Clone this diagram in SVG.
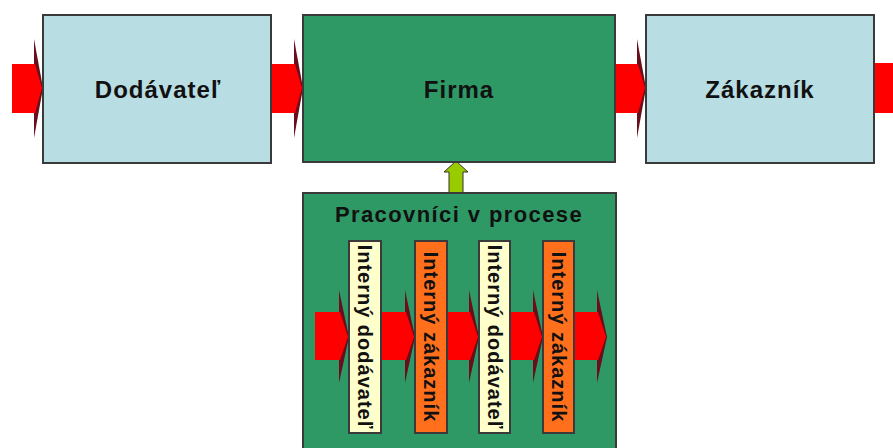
<svg xmlns="http://www.w3.org/2000/svg" width="893" height="448" viewBox="0 0 893 448">
<style>
.box{stroke:#3a3a3a;stroke-width:2}
.blue{fill:#b8dde3}
.green{fill:#2f9966}
.yel{fill:#ffffcc}
.org{fill:#ff6f1c}
.lbl{font-family:"Liberation Sans",Arial,sans-serif;font-weight:bold;fill:#111;text-anchor:middle}
.big{font-size:24px;letter-spacing:1px}
.vt{font-size:20px;letter-spacing:1px;dominant-baseline:central}
.head{fill:#6a0d1c}
.body{fill:#ff0000}
.up{fill:#99cc00;stroke:#333;stroke-width:1}
</style>
<rect width="893" height="448" fill="#ffffff"/>
<g id="connectors">
  <!-- top arrows -->
  <g id="a1"><polygon class="head" points="34,39 43,88 34,138"/><polygon class="body" points="12,64 35,64 42,88 35,113 12,113"/></g>
  <g id="a2"><polygon class="head" points="294,39 303,88 294,138"/><polygon class="body" points="271,64 295,64 302,88 295,113 271,113"/></g>
  <g id="a3"><polygon class="head" points="637,39 646,88 637,138"/><polygon class="body" points="615,64 638,64 645,88 638,113 615,113"/></g>
  <g id="a4"><polygon class="body" points="874,63 893,63 893,113 874,113"/></g>
  <!-- up arrow -->
  <polygon id="up" class="up" points="449,193 449,172 444,172 456,161 468,172 463,172 463,193"/>
</g>
<g id="dodavatel"><rect class="box blue" x="43" y="15" width="228" height="148"/><text class="lbl big" x="158" y="98">Dodávateľ</text></g>
<g id="firma"><rect class="box green" x="303" y="15" width="312" height="147"/><text class="lbl big" x="459" y="98">Firma</text></g>
<g id="zakaznik"><rect class="box blue" x="646" y="15" width="228" height="148"/><text class="lbl big" x="760" y="98">Zákazník</text></g>
<g id="pracovnici">
  <rect class="box green" x="303" y="193" width="313" height="262"/>
  <text class="lbl" x="459" y="222" style="font-size:22px;letter-spacing:1.4px">Pracovníci v procese</text>
  <g id="inner-arrows">
    <polygon class="head" points="339,290 349,337 339,383"/><polygon class="body" points="315,312 340,312 348,337 340,360 315,360"/>
    <polygon class="head" points="405,290 415,337 405,383"/><polygon class="body" points="381,312 406,312 414,337 406,360 381,360"/>
    <polygon class="head" points="469,290 479,337 469,383"/><polygon class="body" points="447,312 470,312 478,337 470,360 447,360"/>
    <polygon class="head" points="533,290 543,337 533,383"/><polygon class="body" points="510,312 534,312 542,337 534,360 510,360"/>
    <polygon class="head" points="597,290 607,337 597,383"/><polygon class="body" points="574,312 598,312 606,337 598,360 574,360"/>
  </g>
  <g id="bar1"><rect class="box yel" x="349" y="241" width="32" height="192"/><text class="lbl vt" transform="translate(365,337) rotate(90)">Interný dodávateľ</text></g>
  <g id="bar2"><rect class="box org" x="415" y="241" width="32" height="192"/><text class="lbl vt" transform="translate(431,337) rotate(90)">Interný zákazník</text></g>
  <g id="bar3"><rect class="box yel" x="479" y="241" width="31" height="192"/><text class="lbl vt" transform="translate(494.5,337) rotate(90)">Interný dodávateľ</text></g>
  <g id="bar4"><rect class="box org" x="543" y="241" width="31" height="192"/><text class="lbl vt" transform="translate(558.5,337) rotate(90)">Interný zákazník</text></g>
</g>
</svg>
